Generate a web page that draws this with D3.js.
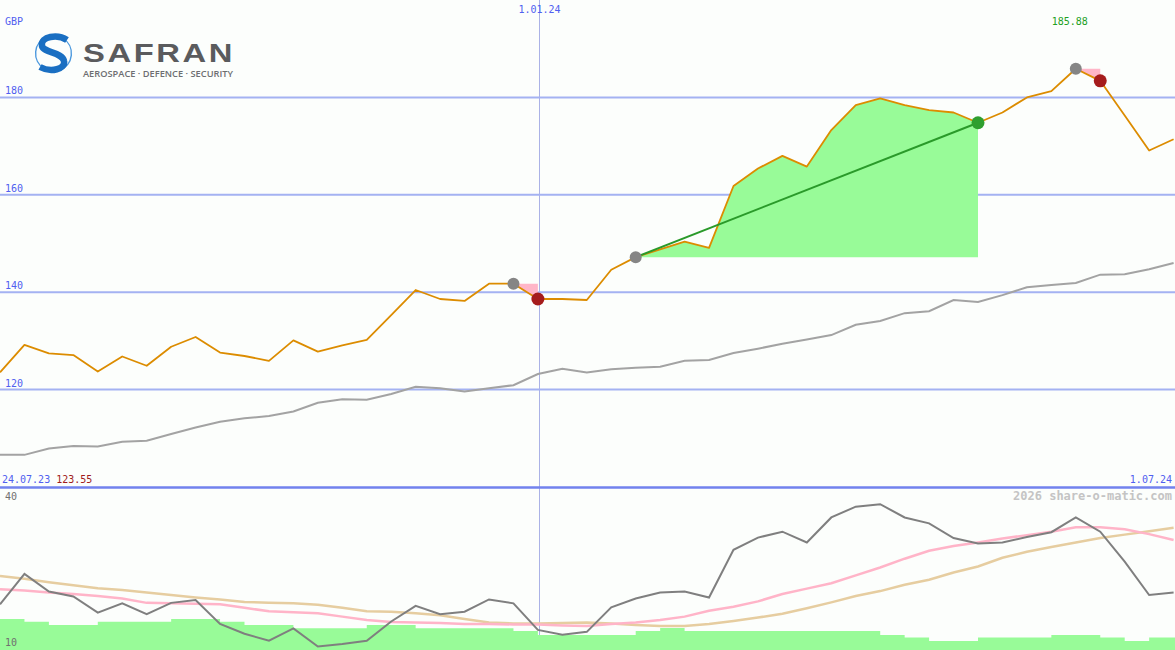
<!DOCTYPE html>
<html><head><meta charset="utf-8">
<script src="https://cdn.jsdelivr.net/npm/d3@7"></script>
<style>html,body{margin:0;padding:0;background:#fcfefc}svg{display:block}</style>
</head><body>
<svg id="c" width="1175" height="650"></svg>
<script>
// ---------- data ----------
const startDate = new Date(2023, 6, 31);
const closes = [123.55,129.2,127.45,127.1,123.7,126.8,124.9,128.8,130.8,127.6,126.9,125.9,130.1,127.8,129.1,130.2,135.3,140.45,138.6,138.2,141.75,141.75,138.6,138.6,138.4,144.6,147.2,148.8,150.4,149.1,161.8,165.4,168.0,165.8,173.3,178.4,179.8,178.4,177.4,176.9,174.8,176.9,180.0,181.3,185.88,183.4,176.3,169.1,171.4];
const movingAvg = [106.6,106.6,107.9,108.4,108.3,109.3,109.5,110.9,112.2,113.4,114.1,114.6,115.5,117.3,118.0,117.9,119.1,120.6,120.3,119.6,120.3,120.9,123.2,124.3,123.5,124.2,124.5,124.7,125.9,126.1,127.5,128.4,129.4,130.3,131.2,133.3,134.1,135.7,136.1,138.4,138.0,139.4,141.0,141.5,141.9,143.6,143.7,144.7,146.0];
const oscillator = [17.3,23.5,19.9,18.9,15.6,17.5,15.3,17.6,18.2,13.3,11.3,9.9,12.4,8.7,9.2,9.9,13.8,17.0,15.3,15.8,18.3,17.5,12.1,11.1,11.7,16.7,18.5,19.7,19.9,18.7,28.4,30.9,32.1,29.9,35.0,37.2,37.7,35.0,33.8,30.8,29.7,29.9,31.0,32.0,35.0,32.1,26.0,19.2,19.7];
const oscPink = [20.4,20.1,19.7,19.4,19.0,18.5,17.6,17.5,17.4,17.3,16.6,15.9,15.7,15.5,14.8,14.1,13.7,13.6,13.5,13.3,13.3,13.2,13.2,13.0,12.9,13.3,13.6,14.1,14.8,16.0,16.8,17.9,19.4,20.5,21.6,23.2,24.8,26.6,28.2,29.2,29.9,30.7,31.4,32.1,33.0,33.0,32.6,31.6,30.4];
const oscTan = [23.1,22.5,21.8,21.2,20.6,20.2,19.7,19.2,18.7,18.3,17.8,17.6,17.5,17.2,16.6,15.9,15.8,15.5,15.1,14.3,13.6,13.4,13.4,13.5,13.6,13.4,13.1,12.9,12.9,13.3,13.9,14.6,15.4,16.5,17.7,19.0,20.0,21.3,22.3,23.8,25.0,26.8,28.0,29.0,29.9,30.8,31.5,32.2,32.9];
const volumeBars = [10,9.1,8.1,8.1,9.1,9.1,9.1,10,10,9.1,8.1,8.1,7.0,7.0,7.0,8.1,8.1,7.0,7.0,7.0,7.0,6.1,4.8,4.8,4.8,4.8,6.1,7.1,6.1,6.1,6.1,6.1,6.1,6.1,6.1,6.1,4.8,4.0,2.9,2.9,4.0,4.0,4.0,4.8,4.8,4.0,2.9,4.0];
const priceTicks = [120, 140, 160, 180];
const oscTicks = [40, 10];
const tradeEntry = [21, 26, 44];
const tradeExit = [22, 40, 45];
const dateMarks = [new Date(2024, 0, 1)];
const currency = "GBP";
const startLabel = "24.07.23";
const endLabel = "1.07.24";
const credit = "2026 share-o-matic.com";

// ---------- scales ----------
const W = 1175, H = 650;
const dates = closes.map((_, i) => d3.timeDay.offset(startDate, 7 * i));
const x = d3.scaleTime().domain([dates[0], dates[dates.length - 1]]).range([0, 1173.6]);
const y = d3.scaleLinear().domain([100, 200]).range([487, 0]);
const yo = d3.scaleLinear().domain([8, 41]).range([650, 488]);
const yv = d3.scaleLinear().domain([0, 10]).range([650, 619]);

const svg = d3.select("#c");
const mono = "DejaVu Sans Mono, monospace";
const blue = "#5060f0";

svg.append("rect").attr("width", W).attr("height", H).attr("fill", "#fcfefc");

// vertical date marks
dateMarks.forEach(d => {
  const xx = Math.round(x(d)) + 1.5;
  svg.append("line").attr("x1", xx).attr("x2", xx).attr("y1", 0).attr("y2", H)
    .attr("stroke", "#aab2e6").attr("stroke-width", 1);
  svg.append("text").attr("x", xx).attr("y", 13).attr("text-anchor", "middle")
    .attr("font-family", mono).attr("font-size", 10).attr("fill", blue)
    .text(d3.timeFormat("%-d.%m.%y")(d));
});

// grid lines
svg.selectAll("line.grid").data(priceTicks).join("line").attr("class", "grid")
  .attr("x1", 0).attr("x2", W).attr("y1", d => y(d)).attr("y2", d => y(d))
  .attr("stroke", "#a4b2f2").attr("stroke-width", 2);
svg.selectAll("text.tick").data(priceTicks).join("text").attr("class", "tick")
  .attr("x", 5).attr("y", d => y(d) - 3)
  .attr("font-family", mono).attr("font-size", 10).attr("fill", blue).text(d => d);

// trades fills
tradeEntry.forEach((e, k) => {
  const xEnd = tradeExit[k];
  const win = closes[xEnd] > closes[e];
  const idx = d3.range(e, xEnd + 1);
  const area = d3.area().x(i => x(dates[i])).y0(y(closes[e])).y1(i => y(closes[i]));
  svg.append("path").attr("d", area(idx)).attr("fill", win ? "#98fb98" : "#ffb6c8");
});

// moving average
const line = (arr, sc) => d3.line().x((d, i) => x(dates[i])).y(d => sc(d))(arr);
svg.append("path").attr("d", line(movingAvg, y)).attr("fill", "none")
  .attr("stroke", "#a3a3a3").attr("stroke-width", 2);
// price
svg.append("path").attr("d", line(closes, y)).attr("fill", "none")
  .attr("stroke", "#dc8c00").attr("stroke-width", 1.8).attr("stroke-linejoin", "round");

// trade lines and dots
tradeEntry.forEach((e, k) => {
  const ex = tradeExit[k];
  const win = closes[ex] > closes[e];
  if (win) {
    svg.append("line").attr("x1", x(dates[e])).attr("y1", y(closes[e]))
      .attr("x2", x(dates[ex])).attr("y2", y(closes[ex]))
      .attr("stroke", "#2a9a2a").attr("stroke-width", 2);
  }
  svg.append("circle").attr("cx", x(dates[e])).attr("cy", y(closes[e])).attr("r", 6).attr("fill", "#858585");
  svg.append("circle").attr("cx", x(dates[ex])).attr("cy", y(closes[ex])).attr("r", 6.5)
    .attr("fill", win ? "#2f9f2f" : "#a51c1c");
});

// separator line
svg.append("line").attr("x1", 0).attr("x2", W).attr("y1", 487.5).attr("y2", 487.5)
  .attr("stroke", "#7282ee").attr("stroke-width", 2.5);

// ---------- lower panel ----------
const volPts = volumeBars.map((v, i) => [x(dates[i]), v]);
volPts.push([W, volumeBars[volumeBars.length - 1]]);
svg.append("path")
  .attr("d", d3.area().curve(d3.curveStepAfter).x(d => d[0]).y0(H).y1(d => yv(d[1]))(volPts))
  .attr("fill", "#98fb98");
svg.append("path").attr("d", line(oscTan, yo)).attr("fill", "none")
  .attr("stroke", "#e6cda0").attr("stroke-width", 2.5);
svg.append("path").attr("d", line(oscPink, yo)).attr("fill", "none")
  .attr("stroke", "#ffb4c8").attr("stroke-width", 2.5);
svg.append("path").attr("d", line(oscillator, yo)).attr("fill", "none")
  .attr("stroke", "#7f7f7f").attr("stroke-width", 2);

svg.selectAll("text.otick").data(oscTicks).join("text").attr("class", "otick")
  .attr("x", 5).attr("y", (d, i) => i === 0 ? 500 : 646)
  .attr("font-family", mono).attr("font-size", 10).attr("fill", "#707070").text(d => d);

// ---------- labels ----------
svg.append("text").attr("x", 5).attr("y", 25).attr("font-family", mono).attr("font-size", 10)
  .attr("fill", blue).text(currency);
const maxI = d3.maxIndex(closes);
svg.append("text").attr("x", x(dates[maxI]) - 6).attr("y", 25).attr("text-anchor", "middle")
  .attr("font-family", mono).attr("font-size", 10).attr("fill", "#22a022").text(closes[maxI].toFixed(2));
const sl = svg.append("text").attr("x", 2).attr("y", 483).attr("font-family", mono).attr("font-size", 10);
sl.append("tspan").attr("fill", blue).text(startLabel + " ");
sl.append("tspan").attr("fill", "#a01c1c").text(closes[0].toFixed(2));
svg.append("text").attr("x", 1172).attr("y", 483).attr("text-anchor", "end")
  .attr("font-family", mono).attr("font-size", 10).attr("fill", blue).text(endLabel);
svg.append("text").attr("x", 1172).attr("y", 500).attr("text-anchor", "end")
  .attr("font-family", mono).attr("font-size", 12).attr("font-weight", "bold")
  .attr("fill", "#c4c4c4").text(credit);

// ---------- logo ----------
const logo = svg.append("g");
logo.append("path").attr("d", d3.arc()({innerRadius: 17.2, outerRadius: 18.6, startAngle: -2.6, endAngle: -0.35}))
  .attr("transform", "translate(53.5,53.5)").attr("fill", "#4a98de");
logo.append("path").attr("d", d3.arc()({innerRadius: 17.2, outerRadius: 18.6, startAngle: 0.55, endAngle: 2.8}))
  .attr("transform", "translate(53.5,53.5)").attr("fill", "#4a98de");
logo.append("path")
  .attr("d", "M67,40 C58,34 40,36 42,46 C44,53 62,52 64,61 C66,69 51,73 40,67")
  .attr("fill", "none").attr("stroke", "#1a6fc2").attr("stroke-width", 6.5);
logo.append("text").attr("x", 83).attr("y", 62).attr("font-family", "Liberation Sans, Arial, sans-serif")
  .attr("font-weight", "bold").attr("font-size", 25.5).attr("fill", "#5a5b5d").attr("letter-spacing", 2)
  .attr("textLength", 152).attr("lengthAdjust", "spacingAndGlyphs").text("SAFRAN");
logo.append("text").attr("x", 83).attr("y", 77).attr("font-family", "Open Sans, Liberation Sans, sans-serif")
  .attr("font-size", 9).attr("font-weight", 600).attr("fill", "#6d6e71")
  .attr("textLength", 150).attr("lengthAdjust", "spacingAndGlyphs").text("AEROSPACE · DEFENCE · SECURITY");
</script>
</body></html>
